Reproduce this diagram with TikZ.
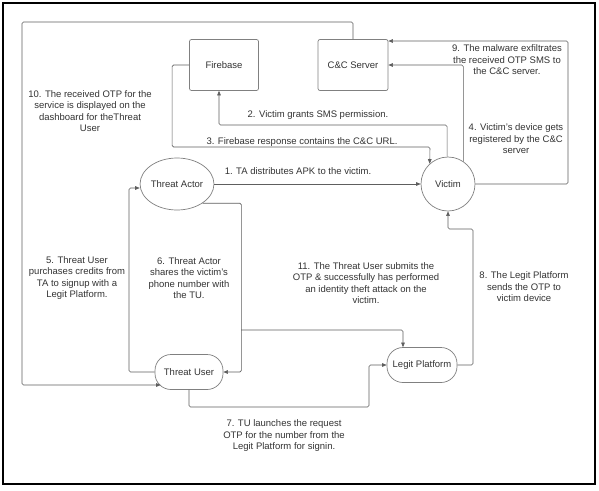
\documentclass[tikz,border=0pt]{standalone}
\usepackage{fontspec}
\setmainfont{Liberation Sans}
\usetikzlibrary{arrows.meta,shapes.geometric}
\definecolor{ln}{HTML}{5E5E5E}
\definecolor{txt}{HTML}{333333}
\definecolor{bd}{HTML}{808080}
\newcommand\lblfont{\fontsize{9.5}{11.5}\selectfont}
\begin{document}
\begin{tikzpicture}[x=1pt,y=-1pt,
  box/.style={draw=bd,line width=0.7pt,rounded corners=2pt,minimum width=69pt,minimum height=51pt,inner sep=0pt,font=\lblfont,text=txt},
  oval/.style={draw=bd,line width=0.7pt,ellipse,minimum width=60pt,minimum height=52pt,inner sep=0pt,font=\lblfont,text=txt},
  circ/.style={draw=bd,line width=0.7pt,circle,minimum size=54pt,inner sep=0pt,font=\lblfont,text=txt},
  stad/.style={draw=bd,line width=0.7pt,rounded corners=16pt,minimum height=35pt,inner sep=0pt,font=\lblfont,text=txt},
  lbl/.style={align=center,font=\lblfont,text=txt,inner sep=0pt},
  arr/.style={draw=ln,line width=0.6pt,rounded corners=1.5pt,-{Triangle[length=4.5pt,width=3.6pt]}}]
\useasboundingbox (0,0) rectangle (599,490);
\fill[white] (0,0) rectangle (599,490);

% nodes
\node[box] (fb) at (224,65) {Firebase};
\node[box,minimum width=70pt] (cc) at (353,65) {C\&C Server};
\node[oval] (ta) at (177,184) {Threat Actor};
\node[circ] (vic) at (448,184) {Victim};
\node[stad,minimum width=68pt] (tu) at (189,372) {Threat User};
\node[stad,minimum width=70pt] (lp) at (422,365) {Legit Platform};

% helper coordinates
\coordinate (c10) at (22,22);
\coordinate (c4) at (568,41);
\coordinate (c11) at (241,330);
\coordinate (c2) at (219,125);
\coordinate (c3) at (430,147);
\coordinate (c7) at (369,407);
\coordinate (c8) at (473,229);

% connectors
\draw[arr] (ta.east) -- (vic.west);
\draw[arr] (vic.92) |- (c2) -- ([xshift=-5pt]fb.south);
\draw[arr] (fb.west) -- ++(-17,0) |- (c3) -- (vic.132);
\draw[arr] (vic.east) -| (c4) -- (c4 -| cc.east);
\draw[arr] (vic.56) |- (cc.east);
\draw[arr] (cc.north) |- (c10) |- ([shift={(6pt,-13pt)}]tu.west);
\draw[arr] (tu.west) -| (129,188) -- ([yshift=-4pt]ta.west);
\draw[arr] (ta.-37) -| ([xshift=18pt]tu.east) -- (tu.east);
\draw[arr] (c11) -| ([xshift=-19pt]lp.north);
\draw[arr] (tu.south) |- (c7) |- (lp.west);
\draw[arr] (lp.east) -| (c8) -| (vic.south);

% labels
\node[lbl] (l1) at (298,171) {1. TA distributes APK to the victim.};
\node[lbl] (l2) at (318,115) {2. Victim grants SMS permission.};
\node[lbl] (l3) at (302,142) {3. Firebase response contains the C\&C URL.};
\node[lbl] (l4) at (516,139) {4. Victim's device gets\\registered by the C\&C\\server};
\node[lbl] (l9) at (507,60) {9. The malware exfiltrates\\the received OTP SMS to\\the C\&C server.};
\node[lbl] (l10) at (90,111) {10. The received OTP for the\\service is displayed on the\\dashboard for theThreat\\User};
\node[lbl] (l5) at (77,278) {5. Threat User\\purchases credits from\\TA to signup with a\\Legit Platform.};
\node[lbl] (l6) at (189,278) {6. Threat Actor\\shares the victim's\\phone number with\\the TU.};
\node[lbl] (l11) at (366,283) {11. The Threat User submits the\\OTP \& successfully has performed\\an identity theft attack on the\\victim.};
\node[lbl] (l8) at (524,287) {8. The Legit Platform\\sends the OTP to\\victim device};
\node[lbl] (l7) at (284,436) {7. TU launches the request\\OTP for the number from the\\Legit Platform for signin.};

% outer frame
\draw[black,line width=2.6pt] (3,3) rectangle (595,484);
\end{tikzpicture}
\end{document}
